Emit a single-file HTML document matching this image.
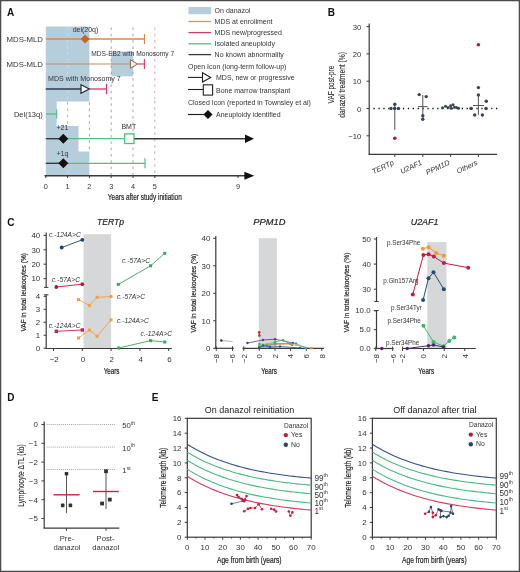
<!DOCTYPE html>
<html><head><meta charset="utf-8"><style>
html,body{margin:0;padding:0;background:#fff;}
body{width:520px;height:572px;overflow:hidden;position:relative;}
.ov{position:absolute;left:0;top:0;filter:none;}
svg{display:block;font-family:"Liberation Sans", sans-serif;filter:blur(0.4px);}
</style></head><body>
<svg width="520" height="572" viewBox="0 0 520 572">
<rect x="0" y="0" width="520" height="572" fill="#fff"/>
<text x="6.90" y="15.80" font-size="10" text-anchor="start" fill="#111" font-weight="bold">A</text>
<polygon points="45.80,26.50 89.40,26.50 89.40,101.50 56.70,101.50 56.70,126.00 78.50,126.00 78.50,151.60 89.40,151.60 89.40,175.50 45.80,175.50" fill="#b6cedc" stroke="none" stroke-width="1"/>
<rect x="111.20" y="51.50" width="21.80" height="24.80" fill="#b6cedc"/>
<line x1="111.20" y1="27.35" x2="111.20" y2="175.00" stroke="#9c9c9c" stroke-width="0.9" stroke-dasharray="2.6,3.73"/>
<line x1="133.00" y1="27.35" x2="133.00" y2="175.00" stroke="#9c9c9c" stroke-width="0.9" stroke-dasharray="2.6,3.73"/>
<line x1="89.40" y1="102.30" x2="89.40" y2="151.00" stroke="#9c9c9c" stroke-width="0.9" stroke-dasharray="2.6,3.73"/>
<line x1="67.60" y1="27.35" x2="67.60" y2="101.50" stroke="#d2dae0" stroke-width="0.9" stroke-dasharray="2.6,3.73"/>
<line x1="67.60" y1="102.00" x2="67.60" y2="126.00" stroke="#a8a8a8" stroke-width="0.9" stroke-dasharray="2.6,3.73"/>
<line x1="67.60" y1="126.50" x2="67.60" y2="175.00" stroke="#c8d2d8" stroke-width="0.9" stroke-dasharray="2.6,3.73"/>
<line x1="154.80" y1="27.35" x2="154.80" y2="100.00" stroke="#e59ab0" stroke-width="0.9" stroke-dasharray="2.6,3.73"/>
<line x1="154.80" y1="100.80" x2="154.80" y2="175.00" stroke="#b0a8ac" stroke-width="0.9" stroke-dasharray="2.6,3.73"/>
<line x1="45.80" y1="39.00" x2="144.50" y2="39.00" stroke="#d08a4e" stroke-width="1.3"/>
<line x1="144.50" y1="34.00" x2="144.50" y2="44.00" stroke="#d08a4e" stroke-width="1.2"/>
<polygon points="85.10,34.50 89.60,39.00 85.10,43.50 80.60,39.00" fill="#c4661f" stroke="none" stroke-width="1"/>
<text x="85.50" y="31.80" font-size="7" text-anchor="middle" fill="#333">del(20q)</text>
<text x="43.00" y="41.70" font-size="7.8" text-anchor="end" fill="#333">MDS-MLD</text>
<line x1="45.80" y1="64.00" x2="131.00" y2="64.00" stroke="#b39070" stroke-width="1.1"/>
<line x1="137.50" y1="64.00" x2="144.40" y2="64.00" stroke="#d23a68" stroke-width="1.1"/>
<line x1="144.40" y1="59.00" x2="144.40" y2="69.00" stroke="#d23a68" stroke-width="1.1"/>
<polygon points="130.40,59.80 137.50,64.00 130.40,68.30" fill="#f6efe8" stroke="#8e6a4a" stroke-width="1.0"/>
<text x="91.20" y="56.00" font-size="7.2" text-anchor="start" fill="#333" textLength="83" lengthAdjust="spacingAndGlyphs" stroke="#333" stroke-width="0">MDS-EB2 with Monosomy 7</text>
<text x="43.00" y="66.70" font-size="7.8" text-anchor="end" fill="#333">MDS-MLD</text>
<line x1="45.80" y1="89.00" x2="81.00" y2="89.00" stroke="#2e3a52" stroke-width="1.4"/>
<line x1="89.30" y1="89.00" x2="106.50" y2="89.00" stroke="#d23a68" stroke-width="1.3"/>
<line x1="106.50" y1="83.70" x2="106.50" y2="94.30" stroke="#d23a68" stroke-width="1.2"/>
<polygon points="81.00,84.70 89.30,89.00 81.00,93.30" fill="#ffffff" stroke="#1f2a3c" stroke-width="1.2"/>
<text x="48.10" y="80.70" font-size="7.4" text-anchor="start" fill="#333" textLength="72.7" lengthAdjust="spacingAndGlyphs" stroke="#333" stroke-width="0">MDS with Monosomy 7</text>
<line x1="45.80" y1="114.00" x2="56.70" y2="114.00" stroke="#4fbf7f" stroke-width="1.3"/>
<line x1="56.70" y1="109.50" x2="56.70" y2="118.50" stroke="#4fbf7f" stroke-width="1.2"/>
<text x="42.70" y="116.60" font-size="7.5" text-anchor="end" fill="#333">Del(13q)</text>
<line x1="45.80" y1="138.70" x2="63.00" y2="138.70" stroke="#3a3a3a" stroke-width="1.4"/>
<line x1="63.00" y1="138.70" x2="124.70" y2="138.70" stroke="#4fbf7f" stroke-width="1.3"/>
<line x1="134.00" y1="138.70" x2="246.00" y2="138.70" stroke="#3a3a3a" stroke-width="1.4"/>
<polygon points="245.00,134.50 254.00,138.70 245.00,142.90" fill="#111" stroke="none" stroke-width="1"/>
<rect x="124.70" y="133.90" width="9.30" height="9.60" fill="#ffffff" stroke="#4fbf7f" stroke-width="1.3"/>
<polygon points="63.30,133.70 68.30,138.70 63.30,143.70 58.30,138.70" fill="#111" stroke="none" stroke-width="1"/>
<text x="62.40" y="129.60" font-size="7" text-anchor="middle" fill="#333">+21</text>
<text x="128.80" y="129.30" font-size="7" text-anchor="middle" fill="#333">BMT</text>
<line x1="45.80" y1="163.30" x2="63.00" y2="163.30" stroke="#3a3a3a" stroke-width="1.4"/>
<line x1="63.00" y1="163.30" x2="145.00" y2="163.30" stroke="#4fbf7f" stroke-width="1.3"/>
<line x1="145.00" y1="158.30" x2="145.00" y2="168.30" stroke="#4fbf7f" stroke-width="1.2"/>
<polygon points="63.30,158.30 68.30,163.30 63.30,168.30 58.30,163.30" fill="#111" stroke="none" stroke-width="1"/>
<text x="62.40" y="156.00" font-size="7" text-anchor="middle" fill="#333">+1q</text>
<line x1="44.50" y1="175.70" x2="246.00" y2="175.70" stroke="#3a3a3a" stroke-width="1.4"/>
<polygon points="244.40,171.80 254.20,175.70 244.40,179.70" fill="#111" stroke="none" stroke-width="1"/>
<line x1="45.80" y1="175.70" x2="45.80" y2="178.00" stroke="#3a3a3a" stroke-width="1"/>
<text x="45.80" y="188.70" font-size="7.3" text-anchor="middle" fill="#333">0</text>
<line x1="67.60" y1="175.70" x2="67.60" y2="178.00" stroke="#3a3a3a" stroke-width="1"/>
<text x="67.60" y="188.70" font-size="7.3" text-anchor="middle" fill="#333">1</text>
<line x1="89.40" y1="175.70" x2="89.40" y2="178.00" stroke="#3a3a3a" stroke-width="1"/>
<text x="89.40" y="188.70" font-size="7.3" text-anchor="middle" fill="#333">2</text>
<line x1="111.20" y1="175.70" x2="111.20" y2="178.00" stroke="#3a3a3a" stroke-width="1"/>
<text x="111.20" y="188.70" font-size="7.3" text-anchor="middle" fill="#333">3</text>
<line x1="133.00" y1="175.70" x2="133.00" y2="178.00" stroke="#3a3a3a" stroke-width="1"/>
<text x="133.00" y="188.70" font-size="7.3" text-anchor="middle" fill="#333">4</text>
<line x1="154.80" y1="175.70" x2="154.80" y2="178.00" stroke="#3a3a3a" stroke-width="1"/>
<text x="154.80" y="188.70" font-size="7.3" text-anchor="middle" fill="#333">5</text>
<line x1="238.00" y1="175.70" x2="238.00" y2="178.00" stroke="#3a3a3a" stroke-width="1"/>
<text x="238.00" y="188.70" font-size="7.3" text-anchor="middle" fill="#333">9</text>
<text x="107.80" y="199.70" font-size="9.3" text-anchor="start" fill="#222" textLength="74" lengthAdjust="spacingAndGlyphs" stroke="#222" stroke-width="0.2">Years after study initiation</text>
<rect x="188.50" y="7.00" width="22.70" height="7.20" fill="#b6cedc"/>
<line x1="188.50" y1="21.50" x2="211.20" y2="21.50" stroke="#c89870" stroke-width="1.3"/>
<line x1="188.50" y1="32.60" x2="211.20" y2="32.60" stroke="#d23a68" stroke-width="1.3"/>
<line x1="188.50" y1="43.80" x2="211.20" y2="43.80" stroke="#4fbf7f" stroke-width="1.3"/>
<line x1="188.50" y1="54.60" x2="211.20" y2="54.60" stroke="#3a3a3a" stroke-width="1.3"/>
<text x="214.60" y="13.20" font-size="7" text-anchor="start" fill="#333">On danazol</text>
<text x="214.60" y="24.10" font-size="7" text-anchor="start" fill="#333">MDS at enrollment</text>
<text x="214.60" y="35.20" font-size="7" text-anchor="start" fill="#333">MDS new/progressed</text>
<text x="214.60" y="46.30" font-size="7" text-anchor="start" fill="#333">Isolated aneuploidy</text>
<text x="214.60" y="57.10" font-size="7" text-anchor="start" fill="#333">No known abnormality</text>
<text x="188.00" y="68.50" font-size="7" text-anchor="start" fill="#333">Open Icon (long-term follow-up)</text>
<line x1="188.00" y1="77.40" x2="202.50" y2="77.40" stroke="#222" stroke-width="1.1"/>
<polygon points="202.50,72.80 210.70,77.40 202.50,82.00" fill="#fff" stroke="#222" stroke-width="1.1"/>
<text x="216.00" y="80.00" font-size="7" text-anchor="start" fill="#333">MDS, new or progressive</text>
<line x1="188.00" y1="89.50" x2="203.00" y2="89.50" stroke="#222" stroke-width="1.1"/>
<rect x="203.30" y="84.80" width="9.30" height="10.30" fill="#fff" stroke="#222" stroke-width="1.1"/>
<text x="216.00" y="92.60" font-size="7" text-anchor="start" fill="#333">Bone marrow transplant</text>
<text x="188.00" y="105.00" font-size="7" text-anchor="start" fill="#333">Closed Icon (reported in Townsley et al)</text>
<line x1="188.00" y1="114.50" x2="204.00" y2="114.50" stroke="#222" stroke-width="1.2"/>
<polygon points="208.00,109.90 212.60,114.50 208.00,119.10 203.40,114.50" fill="#111" stroke="none" stroke-width="1"/>
<text x="216.00" y="117.10" font-size="7" text-anchor="start" fill="#333">Aneuploidy identified</text>
<text x="327.70" y="15.90" font-size="10" text-anchor="start" fill="#111" font-weight="bold">B</text>
<line x1="369.20" y1="23.50" x2="369.20" y2="154.40" stroke="#3a3a3a" stroke-width="1.2"/>
<line x1="368.60" y1="154.40" x2="497.00" y2="154.40" stroke="#3a3a3a" stroke-width="1.2"/>
<line x1="366.50" y1="26.60" x2="369.20" y2="26.60" stroke="#3a3a3a" stroke-width="1"/>
<text x="361.30" y="29.80" font-size="7.7" text-anchor="end" fill="#333">30</text>
<line x1="366.50" y1="53.90" x2="369.20" y2="53.90" stroke="#3a3a3a" stroke-width="1"/>
<text x="361.30" y="57.10" font-size="7.7" text-anchor="end" fill="#333">20</text>
<line x1="366.50" y1="81.20" x2="369.20" y2="81.20" stroke="#3a3a3a" stroke-width="1"/>
<text x="361.30" y="84.40" font-size="7.7" text-anchor="end" fill="#333">10</text>
<line x1="366.50" y1="108.50" x2="369.20" y2="108.50" stroke="#3a3a3a" stroke-width="1"/>
<text x="361.30" y="111.70" font-size="7.7" text-anchor="end" fill="#333">0</text>
<line x1="366.50" y1="135.80" x2="369.20" y2="135.80" stroke="#3a3a3a" stroke-width="1"/>
<text x="361.30" y="139.00" font-size="7.7" text-anchor="end" fill="#333">−10</text>
<text x="334.20" y="84.60" font-size="8.3" text-anchor="middle" fill="#222" textLength="37.7" lengthAdjust="spacingAndGlyphs" stroke="#222" stroke-width="0.08" transform="rotate(-90 334.20 84.60)">VAF post-pre</text>
<text x="345.00" y="84.90" font-size="8.3" text-anchor="middle" fill="#222" textLength="65.7" lengthAdjust="spacingAndGlyphs" stroke="#222" stroke-width="0.08" transform="rotate(-90 345.00 84.90)">danazol treatment (%)</text>
<line x1="373.50" y1="108.50" x2="498.00" y2="108.50" stroke="#111" stroke-width="1.3" stroke-dasharray="1.3,3.6"/>
<line x1="394.80" y1="154.40" x2="394.80" y2="157.00" stroke="#3a3a3a" stroke-width="1"/>
<line x1="422.80" y1="154.40" x2="422.80" y2="157.00" stroke="#3a3a3a" stroke-width="1"/>
<line x1="450.60" y1="154.40" x2="450.60" y2="157.00" stroke="#3a3a3a" stroke-width="1"/>
<line x1="478.40" y1="154.40" x2="478.40" y2="157.00" stroke="#3a3a3a" stroke-width="1"/>
<line x1="394.80" y1="104.20" x2="394.80" y2="130.00" stroke="#555" stroke-width="1"/>
<circle cx="391.00" cy="108.50" r="1.7" fill="#3a4552"/>
<circle cx="394.80" cy="104.20" r="1.7" fill="#3a4552"/>
<circle cx="398.50" cy="108.50" r="1.7" fill="#3a4552"/>
<circle cx="394.80" cy="108.50" r="1.7" fill="#3a4552"/>
<circle cx="394.80" cy="138.20" r="1.8" fill="#b0193d"/>
<line x1="422.80" y1="95.00" x2="422.80" y2="119.50" stroke="#555" stroke-width="1"/>
<line x1="418.00" y1="106.60" x2="427.50" y2="106.60" stroke="#555" stroke-width="1"/>
<circle cx="419.20" cy="94.60" r="1.7" fill="#3a4552"/>
<circle cx="426.20" cy="96.60" r="1.7" fill="#3a4552"/>
<circle cx="422.80" cy="115.80" r="1.7" fill="#3a4552"/>
<circle cx="422.80" cy="119.30" r="1.7" fill="#3a4552"/>
<circle cx="442.50" cy="107.80" r="1.5" fill="#3a4552"/>
<circle cx="445.50" cy="106.30" r="1.5" fill="#3a4552"/>
<circle cx="448.00" cy="107.50" r="1.5" fill="#3a4552"/>
<circle cx="450.50" cy="105.80" r="1.5" fill="#3a4552"/>
<circle cx="453.00" cy="104.80" r="1.5" fill="#3a4552"/>
<circle cx="454.50" cy="107.20" r="1.5" fill="#3a4552"/>
<circle cx="456.50" cy="107.50" r="1.5" fill="#3a4552"/>
<circle cx="458.60" cy="108.30" r="1.5" fill="#3a4552"/>
<circle cx="451.00" cy="108.30" r="1.5" fill="#3a4552"/>
<line x1="478.40" y1="95.00" x2="478.40" y2="115.00" stroke="#555" stroke-width="1"/>
<line x1="473.00" y1="105.50" x2="484.00" y2="105.50" stroke="#555" stroke-width="1"/>
<circle cx="478.40" cy="87.60" r="1.7" fill="#3a4552"/>
<circle cx="478.40" cy="95.00" r="1.7" fill="#3a4552"/>
<circle cx="486.30" cy="101.30" r="1.7" fill="#3a4552"/>
<circle cx="471.00" cy="108.50" r="1.7" fill="#3a4552"/>
<circle cx="486.00" cy="108.50" r="1.7" fill="#3a4552"/>
<circle cx="474.70" cy="115.00" r="1.7" fill="#3a4552"/>
<circle cx="482.40" cy="115.00" r="1.7" fill="#3a4552"/>
<circle cx="478.40" cy="44.80" r="1.8" fill="#b0193d"/>
<text x="394.50" y="164.30" font-size="7.4" text-anchor="end" fill="#333" font-style="italic" transform="rotate(-25 394.50 164.30)">TERTp</text>
<text x="422.50" y="164.30" font-size="7.4" text-anchor="end" fill="#333" font-style="italic" transform="rotate(-25 422.50 164.30)">U2AF1</text>
<text x="450.30" y="164.30" font-size="7.4" text-anchor="end" fill="#333" font-style="italic" transform="rotate(-25 450.30 164.30)">PPM1D</text>
<text x="478.10" y="164.30" font-size="7.4" text-anchor="end" fill="#333" font-style="italic" transform="rotate(-25 478.10 164.30)">Others</text>
<text x="7.20" y="226.00" font-size="10" text-anchor="start" fill="#111" font-weight="bold">C</text>
<rect x="83.50" y="234.20" width="27.60" height="114.00" fill="#d6d7d9"/>
<text x="110.60" y="225.10" font-size="9.6" text-anchor="middle" fill="#222" font-style="italic" textLength="27" lengthAdjust="spacingAndGlyphs" stroke="#222" stroke-width="0.2">TERTp</text>
<line x1="46.20" y1="232.50" x2="46.20" y2="287.40" stroke="#3a3a3a" stroke-width="1.2"/>
<line x1="44.00" y1="287.40" x2="48.40" y2="287.40" stroke="#3a3a3a" stroke-width="1"/>
<line x1="43.60" y1="235.40" x2="46.20" y2="235.40" stroke="#3a3a3a" stroke-width="1"/>
<text x="40.20" y="238.20" font-size="7.9" text-anchor="end" fill="#333">40</text>
<line x1="43.60" y1="249.80" x2="46.20" y2="249.80" stroke="#3a3a3a" stroke-width="1"/>
<text x="40.20" y="252.60" font-size="7.9" text-anchor="end" fill="#333">30</text>
<line x1="43.60" y1="264.20" x2="46.20" y2="264.20" stroke="#3a3a3a" stroke-width="1"/>
<text x="40.20" y="267.00" font-size="7.9" text-anchor="end" fill="#333">20</text>
<line x1="43.60" y1="278.60" x2="46.20" y2="278.60" stroke="#3a3a3a" stroke-width="1"/>
<text x="40.20" y="281.40" font-size="7.9" text-anchor="end" fill="#333">10</text>
<line x1="46.20" y1="294.80" x2="46.20" y2="348.80" stroke="#3a3a3a" stroke-width="1.2"/>
<line x1="44.00" y1="294.80" x2="48.40" y2="294.80" stroke="#3a3a3a" stroke-width="1"/>
<line x1="43.60" y1="296.32" x2="46.20" y2="296.32" stroke="#3a3a3a" stroke-width="1"/>
<text x="40.20" y="299.12" font-size="7.9" text-anchor="end" fill="#333">4</text>
<line x1="43.60" y1="309.29" x2="46.20" y2="309.29" stroke="#3a3a3a" stroke-width="1"/>
<text x="40.20" y="312.09" font-size="7.9" text-anchor="end" fill="#333">3</text>
<line x1="43.60" y1="322.26" x2="46.20" y2="322.26" stroke="#3a3a3a" stroke-width="1"/>
<text x="40.20" y="325.06" font-size="7.9" text-anchor="end" fill="#333">2</text>
<line x1="43.60" y1="335.23" x2="46.20" y2="335.23" stroke="#3a3a3a" stroke-width="1"/>
<text x="40.20" y="338.03" font-size="7.9" text-anchor="end" fill="#333">1</text>
<line x1="43.60" y1="348.20" x2="46.20" y2="348.20" stroke="#3a3a3a" stroke-width="1"/>
<text x="40.20" y="351.00" font-size="7.9" text-anchor="end" fill="#333">0</text>
<line x1="45.60" y1="348.50" x2="171.80" y2="348.50" stroke="#3a3a3a" stroke-width="1.2"/>
<line x1="53.50" y1="348.50" x2="53.50" y2="351.00" stroke="#3a3a3a" stroke-width="1"/>
<text x="54.20" y="361.50" font-size="7.9" text-anchor="middle" fill="#333">−2</text>
<line x1="82.30" y1="348.50" x2="82.30" y2="351.00" stroke="#3a3a3a" stroke-width="1"/>
<text x="83.00" y="361.50" font-size="7.9" text-anchor="middle" fill="#333">0</text>
<line x1="111.10" y1="348.50" x2="111.10" y2="351.00" stroke="#3a3a3a" stroke-width="1"/>
<text x="111.80" y="361.50" font-size="7.9" text-anchor="middle" fill="#333">2</text>
<line x1="139.90" y1="348.50" x2="139.90" y2="351.00" stroke="#3a3a3a" stroke-width="1"/>
<text x="140.60" y="361.50" font-size="7.9" text-anchor="middle" fill="#333">4</text>
<line x1="168.70" y1="348.50" x2="168.70" y2="351.00" stroke="#3a3a3a" stroke-width="1"/>
<text x="169.40" y="361.50" font-size="7.9" text-anchor="middle" fill="#333">6</text>
<text x="111.50" y="373.50" font-size="8.4" text-anchor="middle" fill="#222" textLength="15.7" lengthAdjust="spacingAndGlyphs" stroke="#222" stroke-width="0.2">Years</text>
<text x="25.80" y="292.30" font-size="7.8" text-anchor="middle" fill="#222" textLength="78.5" lengthAdjust="spacingAndGlyphs" stroke="#222" stroke-width="0.2" transform="rotate(-90 25.80 292.30)">VAF in total leukocytes (%)</text>
<polyline points="61.70,247.50 82.30,239.80" stroke="#1d4468" stroke-width="0.9" fill="none"/>
<circle cx="61.70" cy="247.50" r="1.9" fill="#1d4468"/>
<circle cx="82.30" cy="239.80" r="1.9" fill="#1d4468"/>
<polyline points="56.30,287.00 82.30,284.20" stroke="#b5173f" stroke-width="0.9" fill="none"/>
<circle cx="56.30" cy="287.00" r="1.9" fill="#b5173f"/>
<circle cx="82.30" cy="284.20" r="1.9" fill="#b5173f"/>
<polyline points="118.30,284.40 150.60,265.80 164.80,253.30" stroke="#3aa85a" stroke-width="0.9" fill="none"/>
<rect x="116.80" y="282.90" width="3.00" height="3.00" fill="#3aa85a"/>
<rect x="149.10" y="264.30" width="3.00" height="3.00" fill="#3aa85a"/>
<rect x="163.30" y="251.80" width="3.00" height="3.00" fill="#3aa85a"/>
<polyline points="78.50,299.60 89.40,305.40 97.10,297.30 111.00,296.50" stroke="#f0a040" stroke-width="0.9" fill="none"/>
<rect x="77.00" y="298.10" width="3.00" height="3.00" fill="#f0a040"/>
<rect x="87.90" y="303.90" width="3.00" height="3.00" fill="#f0a040"/>
<rect x="95.60" y="295.80" width="3.00" height="3.00" fill="#f0a040"/>
<rect x="109.50" y="295.00" width="3.00" height="3.00" fill="#f0a040"/>
<polyline points="78.50,338.00 89.40,330.00 97.10,336.20 111.00,319.80" stroke="#f0a040" stroke-width="0.9" fill="none"/>
<rect x="77.00" y="336.50" width="3.00" height="3.00" fill="#f0a040"/>
<rect x="87.90" y="328.50" width="3.00" height="3.00" fill="#f0a040"/>
<rect x="95.60" y="334.70" width="3.00" height="3.00" fill="#f0a040"/>
<rect x="109.50" y="318.30" width="3.00" height="3.00" fill="#f0a040"/>
<polyline points="56.30,331.30 82.30,330.00" stroke="#c8204f" stroke-width="0.9" fill="none"/>
<rect x="54.60" y="329.60" width="3.40" height="3.40" fill="#c8204f"/>
<rect x="80.60" y="328.30" width="3.40" height="3.40" fill="#c8204f"/>
<polyline points="118.70,348.00 150.60,340.60 164.80,342.00" stroke="#3aa85a" stroke-width="0.9" fill="none"/>
<rect x="117.20" y="346.50" width="3.00" height="3.00" fill="#3aa85a"/>
<rect x="149.10" y="339.10" width="3.00" height="3.00" fill="#3aa85a"/>
<rect x="163.30" y="340.50" width="3.00" height="3.00" fill="#3aa85a"/>
<text x="49.00" y="236.80" font-size="6.7" text-anchor="start" fill="#333" font-style="italic">c.-124A&gt;C</text>
<text x="52.00" y="282.00" font-size="6.7" text-anchor="start" fill="#333" font-style="italic">c.-57A&gt;C</text>
<text x="122.00" y="262.80" font-size="6.7" text-anchor="start" fill="#333" font-style="italic">c.-57A&gt;C</text>
<text x="117.00" y="298.80" font-size="6.7" text-anchor="start" fill="#333" font-style="italic">c.-57A&gt;C</text>
<text x="117.00" y="322.60" font-size="6.7" text-anchor="start" fill="#333" font-style="italic">c.-124A&gt;C</text>
<text x="48.70" y="328.00" font-size="6.7" text-anchor="start" fill="#333" font-style="italic">c.-124A&gt;C</text>
<text x="140.40" y="336.20" font-size="6.7" text-anchor="start" fill="#333" font-style="italic">c.-124A&gt;C</text>
<rect x="258.80" y="238.20" width="18.10" height="110.10" fill="#d6d7d9"/>
<text x="269.30" y="225.10" font-size="9.6" text-anchor="middle" fill="#222" font-style="italic" textLength="32.2" lengthAdjust="spacingAndGlyphs" stroke="#222" stroke-width="0.2">PPM1D</text>
<line x1="215.80" y1="236.00" x2="215.80" y2="348.80" stroke="#3a3a3a" stroke-width="1.2"/>
<line x1="213.20" y1="238.30" x2="215.80" y2="238.30" stroke="#3a3a3a" stroke-width="1"/>
<text x="210.30" y="241.10" font-size="7.9" text-anchor="end" fill="#333">40</text>
<line x1="213.20" y1="265.80" x2="215.80" y2="265.80" stroke="#3a3a3a" stroke-width="1"/>
<text x="210.30" y="268.60" font-size="7.9" text-anchor="end" fill="#333">30</text>
<line x1="213.20" y1="293.30" x2="215.80" y2="293.30" stroke="#3a3a3a" stroke-width="1"/>
<text x="210.30" y="296.10" font-size="7.9" text-anchor="end" fill="#333">20</text>
<line x1="213.20" y1="320.80" x2="215.80" y2="320.80" stroke="#3a3a3a" stroke-width="1"/>
<text x="210.30" y="323.60" font-size="7.9" text-anchor="end" fill="#333">10</text>
<line x1="213.20" y1="348.30" x2="215.80" y2="348.30" stroke="#3a3a3a" stroke-width="1"/>
<text x="210.30" y="351.10" font-size="7.9" text-anchor="end" fill="#333">0</text>
<line x1="215.20" y1="348.30" x2="233.80" y2="348.30" stroke="#3a3a3a" stroke-width="1.2"/>
<line x1="242.50" y1="348.30" x2="324.00" y2="348.30" stroke="#3a3a3a" stroke-width="1.2"/>
<line x1="216.25" y1="346.30" x2="216.25" y2="350.80" stroke="#3a3a3a" stroke-width="1"/>
<text x="219.05" y="354.00" font-size="7.9" text-anchor="end" fill="#333" transform="rotate(-90 219.05 354.00)">−8</text>
<line x1="232.50" y1="346.30" x2="232.50" y2="350.80" stroke="#3a3a3a" stroke-width="1"/>
<text x="235.30" y="354.00" font-size="7.9" text-anchor="end" fill="#333" transform="rotate(-90 235.30 354.00)">−6</text>
<line x1="243.80" y1="346.30" x2="243.80" y2="350.80" stroke="#3a3a3a" stroke-width="1"/>
<text x="246.60" y="354.00" font-size="7.9" text-anchor="end" fill="#333" transform="rotate(-90 246.60 354.00)">−2</text>
<line x1="259.30" y1="348.30" x2="259.30" y2="350.80" stroke="#3a3a3a" stroke-width="1"/>
<text x="262.10" y="354.00" font-size="7.9" text-anchor="end" fill="#333" transform="rotate(-90 262.10 354.00)">0</text>
<line x1="275.00" y1="348.30" x2="275.00" y2="350.80" stroke="#3a3a3a" stroke-width="1"/>
<text x="277.80" y="354.00" font-size="7.9" text-anchor="end" fill="#333" transform="rotate(-90 277.80 354.00)">2</text>
<line x1="290.50" y1="348.30" x2="290.50" y2="350.80" stroke="#3a3a3a" stroke-width="1"/>
<text x="293.30" y="354.00" font-size="7.9" text-anchor="end" fill="#333" transform="rotate(-90 293.30 354.00)">4</text>
<line x1="306.30" y1="348.30" x2="306.30" y2="350.80" stroke="#3a3a3a" stroke-width="1"/>
<text x="309.10" y="354.00" font-size="7.9" text-anchor="end" fill="#333" transform="rotate(-90 309.10 354.00)">6</text>
<line x1="321.80" y1="348.30" x2="321.80" y2="350.80" stroke="#3a3a3a" stroke-width="1"/>
<text x="324.60" y="354.00" font-size="7.9" text-anchor="end" fill="#333" transform="rotate(-90 324.60 354.00)">8</text>
<text x="269.00" y="373.50" font-size="8.4" text-anchor="middle" fill="#222" textLength="15.7" lengthAdjust="spacingAndGlyphs" stroke="#222" stroke-width="0.2">Years</text>
<text x="196.40" y="293.20" font-size="7.8" text-anchor="middle" fill="#222" textLength="79" lengthAdjust="spacingAndGlyphs" stroke="#222" stroke-width="0.2" transform="rotate(-90 196.40 293.20)">VAF in total leukocytes (%)</text>
<line x1="221.30" y1="340.50" x2="232.50" y2="341.50" stroke="#999" stroke-width="0.8"/>
<circle cx="221.30" cy="340.50" r="1.3" fill="#333"/>
<polyline points="247.40,343.00 263.00,340.00 275.00,339.20 293.00,343.00" stroke="#5a3a8a" stroke-width="0.8" fill="none"/>
<circle cx="247.40" cy="343.00" r="1.2" fill="#5a3a8a"/>
<circle cx="263.00" cy="340.00" r="1.2" fill="#5a3a8a"/>
<circle cx="275.00" cy="339.20" r="1.2" fill="#5a3a8a"/>
<circle cx="293.00" cy="343.00" r="1.2" fill="#5a3a8a"/>
<polyline points="259.30,344.00 267.00,344.50 275.00,342.00 283.00,340.00 292.00,345.00" stroke="#4caf50" stroke-width="0.8" fill="none"/>
<circle cx="259.30" cy="344.00" r="1.2" fill="#4caf50"/>
<circle cx="267.00" cy="344.50" r="1.2" fill="#4caf50"/>
<circle cx="275.00" cy="342.00" r="1.2" fill="#4caf50"/>
<circle cx="283.00" cy="340.00" r="1.2" fill="#4caf50"/>
<circle cx="292.00" cy="345.00" r="1.2" fill="#4caf50"/>
<polyline points="259.30,346.00 267.00,345.00 275.00,344.50 290.00,344.00 311.50,348.30" stroke="#e08a30" stroke-width="0.8" fill="none"/>
<circle cx="259.30" cy="346.00" r="1.2" fill="#e08a30"/>
<circle cx="267.00" cy="345.00" r="1.2" fill="#e08a30"/>
<circle cx="275.00" cy="344.50" r="1.2" fill="#e08a30"/>
<circle cx="290.00" cy="344.00" r="1.2" fill="#e08a30"/>
<circle cx="311.50" cy="348.30" r="1.2" fill="#e08a30"/>
<polyline points="259.30,347.00 267.00,346.00 275.00,343.50 296.00,343.50 306.00,348.30" stroke="#2aa8c8" stroke-width="0.8" fill="none"/>
<circle cx="259.30" cy="347.00" r="1.2" fill="#2aa8c8"/>
<circle cx="267.00" cy="346.00" r="1.2" fill="#2aa8c8"/>
<circle cx="275.00" cy="343.50" r="1.2" fill="#2aa8c8"/>
<circle cx="296.00" cy="343.50" r="1.2" fill="#2aa8c8"/>
<circle cx="306.00" cy="348.30" r="1.2" fill="#2aa8c8"/>
<polyline points="259.30,347.50 263.00,345.50 270.00,347.00 280.00,346.50 300.00,348.00" stroke="#1f5fa0" stroke-width="0.8" fill="none"/>
<circle cx="259.30" cy="347.50" r="1.2" fill="#1f5fa0"/>
<circle cx="263.00" cy="345.50" r="1.2" fill="#1f5fa0"/>
<circle cx="270.00" cy="347.00" r="1.2" fill="#1f5fa0"/>
<circle cx="280.00" cy="346.50" r="1.2" fill="#1f5fa0"/>
<circle cx="300.00" cy="348.00" r="1.2" fill="#1f5fa0"/>
<polyline points="259.20,332.30 259.40,335.60" stroke="#c0303a" stroke-width="1.2" fill="none"/>
<circle cx="259.20" cy="332.30" r="1.3" fill="#c0303a"/>
<circle cx="259.40" cy="335.60" r="1.3" fill="#c0303a"/>
<rect x="427.30" y="242.10" width="19.20" height="106.40" fill="#d6d7d9"/>
<text x="424.60" y="225.10" font-size="9.6" text-anchor="middle" fill="#222" font-style="italic" textLength="27.8" lengthAdjust="spacingAndGlyphs" stroke="#222" stroke-width="0.2">U2AF1</text>
<line x1="376.50" y1="237.00" x2="376.50" y2="301.50" stroke="#3a3a3a" stroke-width="1.2"/>
<line x1="374.30" y1="301.50" x2="378.70" y2="301.50" stroke="#3a3a3a" stroke-width="1"/>
<line x1="373.80" y1="239.00" x2="376.50" y2="239.00" stroke="#3a3a3a" stroke-width="1"/>
<text x="371.00" y="241.80" font-size="7.9" text-anchor="end" fill="#333">50</text>
<line x1="373.80" y1="264.10" x2="376.50" y2="264.10" stroke="#3a3a3a" stroke-width="1"/>
<text x="371.00" y="266.90" font-size="7.9" text-anchor="end" fill="#333">40</text>
<line x1="373.80" y1="289.20" x2="376.50" y2="289.20" stroke="#3a3a3a" stroke-width="1"/>
<text x="371.00" y="292.00" font-size="7.9" text-anchor="end" fill="#333">30</text>
<line x1="376.50" y1="310.30" x2="376.50" y2="349.00" stroke="#3a3a3a" stroke-width="1.2"/>
<line x1="374.30" y1="310.50" x2="378.70" y2="310.50" stroke="#3a3a3a" stroke-width="1"/>
<line x1="373.80" y1="310.80" x2="376.50" y2="310.80" stroke="#3a3a3a" stroke-width="1"/>
<text x="370.60" y="313.30" font-size="7.9" text-anchor="end" fill="#333">10.0</text>
<line x1="373.80" y1="329.65" x2="376.50" y2="329.65" stroke="#3a3a3a" stroke-width="1"/>
<text x="370.60" y="332.15" font-size="7.9" text-anchor="end" fill="#333">5.0</text>
<line x1="373.80" y1="348.50" x2="376.50" y2="348.50" stroke="#3a3a3a" stroke-width="1"/>
<text x="370.60" y="351.00" font-size="7.9" text-anchor="end" fill="#333">0.0</text>
<line x1="376.00" y1="348.50" x2="393.50" y2="348.50" stroke="#3a3a3a" stroke-width="1.2"/>
<line x1="402.60" y1="348.50" x2="475.70" y2="348.50" stroke="#3a3a3a" stroke-width="1.2"/>
<line x1="375.80" y1="346.50" x2="375.80" y2="351.00" stroke="#3a3a3a" stroke-width="1"/>
<text x="378.60" y="354.00" font-size="7.9" text-anchor="end" fill="#333" transform="rotate(-90 378.60 354.00)">−8</text>
<line x1="392.70" y1="346.50" x2="392.70" y2="351.00" stroke="#3a3a3a" stroke-width="1"/>
<text x="395.50" y="354.00" font-size="7.9" text-anchor="end" fill="#333" transform="rotate(-90 395.50 354.00)">−6</text>
<line x1="402.60" y1="346.50" x2="402.60" y2="351.00" stroke="#3a3a3a" stroke-width="1"/>
<text x="405.40" y="354.00" font-size="7.9" text-anchor="end" fill="#333" transform="rotate(-90 405.40 354.00)">−2</text>
<line x1="423.40" y1="348.50" x2="423.40" y2="351.00" stroke="#3a3a3a" stroke-width="1"/>
<text x="426.20" y="354.00" font-size="7.9" text-anchor="end" fill="#333" transform="rotate(-90 426.20 354.00)">0</text>
<line x1="444.20" y1="348.50" x2="444.20" y2="351.00" stroke="#3a3a3a" stroke-width="1"/>
<text x="447.00" y="354.00" font-size="7.9" text-anchor="end" fill="#333" transform="rotate(-90 447.00 354.00)">2</text>
<line x1="464.80" y1="348.50" x2="464.80" y2="351.00" stroke="#3a3a3a" stroke-width="1"/>
<text x="467.60" y="354.00" font-size="7.9" text-anchor="end" fill="#333" transform="rotate(-90 467.60 354.00)">4</text>
<text x="426.20" y="373.50" font-size="8.4" text-anchor="middle" fill="#222" textLength="15.7" lengthAdjust="spacingAndGlyphs" stroke="#222" stroke-width="0.2">Years</text>
<text x="349.00" y="292.50" font-size="7.8" text-anchor="middle" fill="#222" textLength="80" lengthAdjust="spacingAndGlyphs" stroke="#222" stroke-width="0.2" transform="rotate(-90 349.00 292.50)">VAF in total leukocytes (%)</text>
<polyline points="422.80,248.80 428.50,247.20 436.20,253.10 443.80,255.70" stroke="#f09a30" stroke-width="1" fill="none"/>
<circle cx="422.80" cy="248.80" r="2.0" fill="#f09a30"/>
<circle cx="428.50" cy="247.20" r="2.0" fill="#f09a30"/>
<circle cx="436.20" cy="253.10" r="2.0" fill="#f09a30"/>
<circle cx="443.80" cy="255.70" r="2.0" fill="#f09a30"/>
<polyline points="412.80,294.40 423.40,255.10 428.50,254.30 433.80,256.60 443.80,263.10 468.20,267.70" stroke="#c8193f" stroke-width="1" fill="none"/>
<circle cx="412.80" cy="294.40" r="2.0" fill="#c8193f"/>
<circle cx="423.40" cy="255.10" r="2.0" fill="#c8193f"/>
<circle cx="428.50" cy="254.30" r="2.0" fill="#c8193f"/>
<circle cx="433.80" cy="256.60" r="2.0" fill="#c8193f"/>
<circle cx="443.80" cy="263.10" r="2.0" fill="#c8193f"/>
<circle cx="468.20" cy="267.70" r="2.0" fill="#c8193f"/>
<polyline points="423.10,300.00 428.50,278.20 433.50,272.30 443.80,289.20" stroke="#1f4e6e" stroke-width="1" fill="none"/>
<circle cx="423.10" cy="300.00" r="2.0" fill="#1f4e6e"/>
<circle cx="428.50" cy="278.20" r="2.0" fill="#1f4e6e"/>
<circle cx="433.50" cy="272.30" r="2.0" fill="#1f4e6e"/>
<circle cx="443.80" cy="289.20" r="2.0" fill="#1f4e6e"/>
<polyline points="423.40,325.80 433.50,342.00 443.50,346.20 449.20,341.00 454.30,337.40" stroke="#3db86a" stroke-width="1" fill="none"/>
<circle cx="423.40" cy="325.80" r="2.0" fill="#3db86a"/>
<circle cx="433.50" cy="342.00" r="2.0" fill="#3db86a"/>
<circle cx="443.50" cy="346.20" r="2.0" fill="#3db86a"/>
<circle cx="449.20" cy="341.00" r="2.0" fill="#3db86a"/>
<circle cx="454.30" cy="337.40" r="2.0" fill="#3db86a"/>
<circle cx="381.80" cy="348.50" r="1.8" fill="#4a2a6a"/>
<polyline points="407.20,348.50 428.50,345.70 433.50,345.00 443.50,347.00" stroke="#4a2a6a" stroke-width="1" fill="none"/>
<circle cx="407.20" cy="348.50" r="1.8" fill="#4a2a6a"/>
<circle cx="428.50" cy="345.70" r="1.8" fill="#4a2a6a"/>
<circle cx="433.50" cy="345.00" r="1.8" fill="#4a2a6a"/>
<circle cx="443.50" cy="347.00" r="1.8" fill="#4a2a6a"/>
<text x="420.30" y="244.60" font-size="6.3" text-anchor="end" fill="#333">p.Ser34Phe</text>
<text x="383.20" y="283.40" font-size="6.3" text-anchor="start" fill="#333">p.Gln157Arg</text>
<text x="391.00" y="310.40" font-size="6.3" text-anchor="start" fill="#333">p.Ser34Tyr</text>
<text x="387.60" y="323.20" font-size="6.3" text-anchor="start" fill="#333">p.Ser34Phe</text>
<text x="386.00" y="344.60" font-size="6.3" text-anchor="start" fill="#333">p.Ser34Phe</text>
<text x="7.20" y="401.20" font-size="10" text-anchor="start" fill="#111" font-weight="bold">D</text>
<line x1="44.20" y1="421.50" x2="44.20" y2="528.30" stroke="#3a3a3a" stroke-width="1.2"/>
<line x1="43.60" y1="528.20" x2="119.30" y2="528.20" stroke="#3a3a3a" stroke-width="1.2"/>
<line x1="41.50" y1="424.50" x2="44.20" y2="424.50" stroke="#3a3a3a" stroke-width="1"/>
<text x="37.80" y="427.30" font-size="7.9" text-anchor="end" fill="#333">0</text>
<line x1="41.50" y1="443.30" x2="44.20" y2="443.30" stroke="#3a3a3a" stroke-width="1"/>
<text x="37.80" y="446.10" font-size="7.9" text-anchor="end" fill="#333">−1</text>
<line x1="41.50" y1="462.10" x2="44.20" y2="462.10" stroke="#3a3a3a" stroke-width="1"/>
<text x="37.80" y="464.90" font-size="7.9" text-anchor="end" fill="#333">−2</text>
<line x1="41.50" y1="480.90" x2="44.20" y2="480.90" stroke="#3a3a3a" stroke-width="1"/>
<text x="37.80" y="483.70" font-size="7.9" text-anchor="end" fill="#333">−3</text>
<line x1="41.50" y1="499.70" x2="44.20" y2="499.70" stroke="#3a3a3a" stroke-width="1"/>
<text x="37.80" y="502.50" font-size="7.9" text-anchor="end" fill="#333">−4</text>
<line x1="41.50" y1="518.50" x2="44.20" y2="518.50" stroke="#3a3a3a" stroke-width="1"/>
<text x="37.80" y="521.30" font-size="7.9" text-anchor="end" fill="#333">−5</text>
<line x1="46.50" y1="424.50" x2="115.00" y2="424.50" stroke="#a0a0a0" stroke-width="0.9" stroke-dasharray="1.1,0.95"/>
<line x1="46.50" y1="447.10" x2="115.00" y2="447.10" stroke="#a0a0a0" stroke-width="0.9" stroke-dasharray="1.1,0.95"/>
<line x1="46.50" y1="469.50" x2="115.00" y2="469.50" stroke="#a0a0a0" stroke-width="0.9" stroke-dasharray="1.1,0.95"/>
<text x="122.30" y="428.20" font-size="7.7" text-anchor="start" fill="#333">50</text>
<text x="130.90" y="424.60" font-size="5" text-anchor="start" fill="#333">th</text>
<text x="122.30" y="450.80" font-size="7.7" text-anchor="start" fill="#333">10</text>
<text x="130.90" y="447.20" font-size="5" text-anchor="start" fill="#333">th</text>
<text x="122.30" y="473.40" font-size="7.7" text-anchor="start" fill="#333">1</text>
<text x="126.80" y="469.80" font-size="5" text-anchor="start" fill="#333">st</text>
<line x1="66.40" y1="528.20" x2="66.40" y2="530.80" stroke="#3a3a3a" stroke-width="1"/>
<line x1="106.00" y1="528.20" x2="106.00" y2="530.80" stroke="#3a3a3a" stroke-width="1"/>
<text x="67.00" y="540.70" font-size="7.7" text-anchor="middle" fill="#333">Pre-</text>
<text x="67.00" y="550.00" font-size="7.7" text-anchor="middle" fill="#333">danazol</text>
<text x="105.60" y="540.70" font-size="7.7" text-anchor="middle" fill="#333">Post-</text>
<text x="105.80" y="550.00" font-size="7.7" text-anchor="middle" fill="#333">danazol</text>
<text x="23.80" y="475.50" font-size="8.2" text-anchor="middle" fill="#222" textLength="62.5" lengthAdjust="spacingAndGlyphs" stroke="#222" stroke-width="0.08" transform="rotate(-90 23.80 475.50)">Lymphocyte ΔTL (kb)</text>
<line x1="66.50" y1="473.70" x2="66.50" y2="513.20" stroke="#555" stroke-width="1"/>
<line x1="106.00" y1="471.20" x2="106.00" y2="509.00" stroke="#555" stroke-width="1"/>
<rect x="64.70" y="471.90" width="3.60" height="3.60" fill="#333" rx="0.8"/>
<rect x="60.90" y="503.60" width="3.60" height="3.60" fill="#333" rx="0.8"/>
<rect x="68.60" y="503.60" width="3.60" height="3.60" fill="#333" rx="0.8"/>
<rect x="104.10" y="469.30" width="3.80" height="3.80" fill="#333"/>
<rect x="100.20" y="501.60" width="3.80" height="3.80" fill="#333"/>
<rect x="107.90" y="497.70" width="3.80" height="3.80" fill="#333"/>
<line x1="53.50" y1="494.80" x2="79.60" y2="494.80" stroke="#c8204f" stroke-width="1.4"/>
<line x1="93.00" y1="491.50" x2="118.80" y2="491.50" stroke="#c8204f" stroke-width="1.4"/>
<text x="151.80" y="401.20" font-size="10" text-anchor="start" fill="#111" font-weight="bold">E</text>
<rect x="187.30" y="418.32" width="123.90" height="118.88" fill="none" stroke="#3a3a3a" stroke-width="1.2"/>
<line x1="184.70" y1="537.20" x2="187.30" y2="537.20" stroke="#3a3a3a" stroke-width="1"/>
<text x="181.50" y="540.00" font-size="7.9" text-anchor="end" fill="#333">0</text>
<line x1="184.70" y1="522.34" x2="187.30" y2="522.34" stroke="#3a3a3a" stroke-width="1"/>
<text x="181.50" y="525.14" font-size="7.9" text-anchor="end" fill="#333">2</text>
<line x1="184.70" y1="507.48" x2="187.30" y2="507.48" stroke="#3a3a3a" stroke-width="1"/>
<text x="181.50" y="510.28" font-size="7.9" text-anchor="end" fill="#333">4</text>
<line x1="184.70" y1="492.62" x2="187.30" y2="492.62" stroke="#3a3a3a" stroke-width="1"/>
<text x="181.50" y="495.42" font-size="7.9" text-anchor="end" fill="#333">6</text>
<line x1="184.70" y1="477.76" x2="187.30" y2="477.76" stroke="#3a3a3a" stroke-width="1"/>
<text x="181.50" y="480.56" font-size="7.9" text-anchor="end" fill="#333">8</text>
<line x1="184.70" y1="462.90" x2="187.30" y2="462.90" stroke="#3a3a3a" stroke-width="1"/>
<text x="181.50" y="465.70" font-size="7.9" text-anchor="end" fill="#333">10</text>
<line x1="184.70" y1="448.04" x2="187.30" y2="448.04" stroke="#3a3a3a" stroke-width="1"/>
<text x="181.50" y="450.84" font-size="7.9" text-anchor="end" fill="#333">12</text>
<line x1="184.70" y1="433.18" x2="187.30" y2="433.18" stroke="#3a3a3a" stroke-width="1"/>
<text x="181.50" y="435.98" font-size="7.9" text-anchor="end" fill="#333">14</text>
<line x1="184.70" y1="418.32" x2="187.30" y2="418.32" stroke="#3a3a3a" stroke-width="1"/>
<text x="181.50" y="421.12" font-size="7.9" text-anchor="end" fill="#333">16</text>
<line x1="187.30" y1="537.20" x2="187.30" y2="539.70" stroke="#3a3a3a" stroke-width="1"/>
<text x="187.30" y="550.30" font-size="7.9" text-anchor="middle" fill="#333">0</text>
<line x1="205.00" y1="537.20" x2="205.00" y2="539.70" stroke="#3a3a3a" stroke-width="1"/>
<text x="205.00" y="550.30" font-size="7.9" text-anchor="middle" fill="#333">10</text>
<line x1="222.70" y1="537.20" x2="222.70" y2="539.70" stroke="#3a3a3a" stroke-width="1"/>
<text x="222.70" y="550.30" font-size="7.9" text-anchor="middle" fill="#333">20</text>
<line x1="240.40" y1="537.20" x2="240.40" y2="539.70" stroke="#3a3a3a" stroke-width="1"/>
<text x="240.40" y="550.30" font-size="7.9" text-anchor="middle" fill="#333">30</text>
<line x1="258.10" y1="537.20" x2="258.10" y2="539.70" stroke="#3a3a3a" stroke-width="1"/>
<text x="258.10" y="550.30" font-size="7.9" text-anchor="middle" fill="#333">40</text>
<line x1="275.80" y1="537.20" x2="275.80" y2="539.70" stroke="#3a3a3a" stroke-width="1"/>
<text x="275.80" y="550.30" font-size="7.9" text-anchor="middle" fill="#333">50</text>
<line x1="293.50" y1="537.20" x2="293.50" y2="539.70" stroke="#3a3a3a" stroke-width="1"/>
<text x="293.50" y="550.30" font-size="7.9" text-anchor="middle" fill="#333">60</text>
<line x1="311.20" y1="537.20" x2="311.20" y2="539.70" stroke="#3a3a3a" stroke-width="1"/>
<text x="311.20" y="550.30" font-size="7.9" text-anchor="middle" fill="#333">70</text>
<line x1="196.15" y1="537.20" x2="196.15" y2="538.70" stroke="#3a3a3a" stroke-width="0.8"/>
<line x1="213.85" y1="537.20" x2="213.85" y2="538.70" stroke="#3a3a3a" stroke-width="0.8"/>
<line x1="231.55" y1="537.20" x2="231.55" y2="538.70" stroke="#3a3a3a" stroke-width="0.8"/>
<line x1="249.25" y1="537.20" x2="249.25" y2="538.70" stroke="#3a3a3a" stroke-width="0.8"/>
<line x1="266.95" y1="537.20" x2="266.95" y2="538.70" stroke="#3a3a3a" stroke-width="0.8"/>
<line x1="284.65" y1="537.20" x2="284.65" y2="538.70" stroke="#3a3a3a" stroke-width="0.8"/>
<line x1="302.35" y1="537.20" x2="302.35" y2="538.70" stroke="#3a3a3a" stroke-width="0.8"/>
<text x="204.80" y="413.30" font-size="9.0" text-anchor="start" fill="#222">On danazol reinitiation</text>
<polyline points="187.30,444.33 190.84,446.50 194.38,448.55 197.92,450.48 201.46,452.31 205.00,454.04 208.54,455.67 212.08,457.21 215.62,458.67 219.16,460.05 222.70,461.34 226.24,462.57 229.78,463.73 233.32,464.82 236.86,465.86 240.40,466.83 243.94,467.75 247.48,468.62 251.02,469.44 254.56,470.22 258.10,470.95 261.64,471.65 265.18,472.30 268.72,472.92 272.26,473.50 275.80,474.05 279.34,474.57 282.88,475.06 286.42,475.53 289.96,475.97 293.50,476.38 297.04,476.77 300.58,477.14 304.12,477.49 307.66,477.82 311.20,478.13" stroke="#34528a" stroke-width="1.1" fill="none"/>
<polyline points="187.30,452.13 190.84,454.25 194.38,456.26 197.92,458.15 201.46,459.94 205.00,461.63 208.54,463.23 212.08,464.73 215.62,466.16 219.16,467.50 222.70,468.77 226.24,469.97 229.78,471.10 233.32,472.17 236.86,473.18 240.40,474.14 243.94,475.04 247.48,475.89 251.02,476.69 254.56,477.45 258.10,478.17 261.64,478.85 265.18,479.49 268.72,480.09 272.26,480.66 275.80,481.20 279.34,481.71 282.88,482.19 286.42,482.64 289.96,483.07 293.50,483.48 297.04,483.86 300.58,484.22 304.12,484.56 307.66,484.89 311.20,485.19" stroke="#4cb87f" stroke-width="1.1" fill="none"/>
<polyline points="187.30,460.30 190.84,462.45 194.38,464.48 197.92,466.39 201.46,468.20 205.00,469.91 208.54,471.52 212.08,473.05 215.62,474.49 219.16,475.85 222.70,477.13 226.24,478.34 229.78,479.49 233.32,480.57 236.86,481.59 240.40,482.56 243.94,483.47 247.48,484.33 251.02,485.14 254.56,485.91 258.10,486.64 261.64,487.32 265.18,487.97 268.72,488.58 272.26,489.16 275.80,489.70 279.34,490.22 282.88,490.70 286.42,491.16 289.96,491.59 293.50,492.00 297.04,492.39 300.58,492.76 304.12,493.10 307.66,493.43 311.20,493.73" stroke="#4cb87f" stroke-width="1.1" fill="none"/>
<polyline points="187.30,469.22 190.84,471.39 194.38,473.44 197.92,475.37 201.46,477.20 205.00,478.93 208.54,480.56 212.08,482.11 215.62,483.56 219.16,484.94 222.70,486.23 226.24,487.46 229.78,488.62 233.32,489.71 236.86,490.75 240.40,491.72 243.94,492.64 247.48,493.51 251.02,494.34 254.56,495.11 258.10,495.84 261.64,496.54 265.18,497.19 268.72,497.81 272.26,498.39 275.80,498.94 279.34,499.46 282.88,499.96 286.42,500.42 289.96,500.86 293.50,501.27 297.04,501.66 300.58,502.03 304.12,502.38 307.66,502.71 311.20,503.02" stroke="#4cb87f" stroke-width="1.1" fill="none"/>
<polyline points="187.30,476.27 190.84,478.45 194.38,480.50 197.92,482.43 201.46,484.26 205.00,485.99 208.54,487.62 212.08,489.16 215.62,490.62 219.16,491.99 222.70,493.29 226.24,494.52 229.78,495.68 233.32,496.77 236.86,497.80 240.40,498.78 243.94,499.70 247.48,500.57 251.02,501.39 254.56,502.17 258.10,502.90 261.64,503.60 265.18,504.25 268.72,504.87 272.26,505.45 275.80,506.00 279.34,506.52 282.88,507.01 286.42,507.48 289.96,507.92 293.50,508.33 297.04,508.72 300.58,509.09 304.12,509.44 307.66,509.77 311.20,510.08" stroke="#d23c62" stroke-width="1.1" fill="none"/>
<text x="314.40" y="480.90" font-size="8.2" text-anchor="start" fill="#333">99</text>
<text x="323.60" y="477.20" font-size="5" text-anchor="start" fill="#333">th</text>
<text x="314.40" y="489.50" font-size="8.2" text-anchor="start" fill="#333">90</text>
<text x="323.60" y="485.80" font-size="5" text-anchor="start" fill="#333">th</text>
<text x="314.40" y="497.90" font-size="8.2" text-anchor="start" fill="#333">50</text>
<text x="323.60" y="494.20" font-size="5" text-anchor="start" fill="#333">th</text>
<text x="314.40" y="506.10" font-size="8.2" text-anchor="start" fill="#333">10</text>
<text x="323.60" y="502.40" font-size="5" text-anchor="start" fill="#333">th</text>
<text x="314.40" y="514.00" font-size="8.2" text-anchor="start" fill="#333">1</text>
<text x="319.00" y="510.30" font-size="5" text-anchor="start" fill="#333">st</text>
<text x="284.00" y="427.70" font-size="6.6" text-anchor="start" fill="#333">Danazol</text>
<circle cx="285.80" cy="435.10" r="2.2" fill="#b81d3a"/>
<text x="291.10" y="437.10" font-size="6.9" text-anchor="start" fill="#333">Yes</text>
<circle cx="285.80" cy="444.80" r="2.2" fill="#27475e"/>
<text x="291.10" y="446.60" font-size="6.9" text-anchor="start" fill="#333">No</text>
<polyline points="237.00,495.00 241.60,498.80 244.20,501.20 246.50,496.00" stroke="#c8193f" stroke-width="0.7" fill="none"/>
<polyline points="244.20,511.20 248.00,508.80 250.40,508.00 255.00,508.00 258.50,504.20 262.00,509.30" stroke="#c8193f" stroke-width="0.7" fill="none"/>
<polyline points="271.20,508.80 276.00,511.50" stroke="#c8193f" stroke-width="0.7" fill="none"/>
<polyline points="288.80,511.50 290.40,515.80 292.40,512.40" stroke="#c8193f" stroke-width="0.7" fill="none"/>
<polyline points="231.50,503.80 245.80,500.40" stroke="#27475e" stroke-width="0.7" fill="none"/>
<circle cx="237.00" cy="495.00" r="1.3" fill="#c8193f"/>
<circle cx="238.50" cy="497.00" r="1.3" fill="#c8193f"/>
<circle cx="241.60" cy="498.80" r="1.3" fill="#c8193f"/>
<circle cx="242.70" cy="500.40" r="1.3" fill="#c8193f"/>
<circle cx="244.20" cy="501.20" r="1.3" fill="#c8193f"/>
<circle cx="246.50" cy="496.00" r="1.3" fill="#c8193f"/>
<circle cx="245.00" cy="499.60" r="1.3" fill="#c8193f"/>
<circle cx="244.20" cy="511.20" r="1.3" fill="#c8193f"/>
<circle cx="248.00" cy="508.80" r="1.3" fill="#c8193f"/>
<circle cx="250.40" cy="508.00" r="1.3" fill="#c8193f"/>
<circle cx="255.00" cy="508.00" r="1.3" fill="#c8193f"/>
<circle cx="258.50" cy="504.20" r="1.3" fill="#c8193f"/>
<circle cx="262.00" cy="509.30" r="1.3" fill="#c8193f"/>
<circle cx="271.20" cy="508.80" r="1.3" fill="#c8193f"/>
<circle cx="274.20" cy="509.60" r="1.3" fill="#c8193f"/>
<circle cx="276.00" cy="511.50" r="1.3" fill="#c8193f"/>
<circle cx="288.80" cy="511.50" r="1.3" fill="#c8193f"/>
<circle cx="290.40" cy="515.80" r="1.3" fill="#c8193f"/>
<circle cx="292.40" cy="512.40" r="1.3" fill="#c8193f"/>
<circle cx="231.50" cy="503.80" r="1.3" fill="#27475e"/>
<text x="165.80" y="477.70" font-size="8.4" text-anchor="middle" fill="#222" textLength="60" lengthAdjust="spacingAndGlyphs" stroke="#222" stroke-width="0.2" transform="rotate(-90 165.80 477.70)">Telomere length (kb)</text>
<text x="249.25" y="563.00" font-size="9.2" text-anchor="middle" fill="#222" textLength="64.6" lengthAdjust="spacingAndGlyphs" stroke="#222" stroke-width="0.2">Age from birth (years)</text>
<rect x="372.40" y="418.32" width="123.90" height="118.88" fill="none" stroke="#3a3a3a" stroke-width="1.2"/>
<line x1="369.80" y1="537.20" x2="372.40" y2="537.20" stroke="#3a3a3a" stroke-width="1"/>
<text x="366.60" y="540.00" font-size="7.9" text-anchor="end" fill="#333">0</text>
<line x1="369.80" y1="522.34" x2="372.40" y2="522.34" stroke="#3a3a3a" stroke-width="1"/>
<text x="366.60" y="525.14" font-size="7.9" text-anchor="end" fill="#333">2</text>
<line x1="369.80" y1="507.48" x2="372.40" y2="507.48" stroke="#3a3a3a" stroke-width="1"/>
<text x="366.60" y="510.28" font-size="7.9" text-anchor="end" fill="#333">4</text>
<line x1="369.80" y1="492.62" x2="372.40" y2="492.62" stroke="#3a3a3a" stroke-width="1"/>
<text x="366.60" y="495.42" font-size="7.9" text-anchor="end" fill="#333">6</text>
<line x1="369.80" y1="477.76" x2="372.40" y2="477.76" stroke="#3a3a3a" stroke-width="1"/>
<text x="366.60" y="480.56" font-size="7.9" text-anchor="end" fill="#333">8</text>
<line x1="369.80" y1="462.90" x2="372.40" y2="462.90" stroke="#3a3a3a" stroke-width="1"/>
<text x="366.60" y="465.70" font-size="7.9" text-anchor="end" fill="#333">10</text>
<line x1="369.80" y1="448.04" x2="372.40" y2="448.04" stroke="#3a3a3a" stroke-width="1"/>
<text x="366.60" y="450.84" font-size="7.9" text-anchor="end" fill="#333">12</text>
<line x1="369.80" y1="433.18" x2="372.40" y2="433.18" stroke="#3a3a3a" stroke-width="1"/>
<text x="366.60" y="435.98" font-size="7.9" text-anchor="end" fill="#333">14</text>
<line x1="369.80" y1="418.32" x2="372.40" y2="418.32" stroke="#3a3a3a" stroke-width="1"/>
<text x="366.60" y="421.12" font-size="7.9" text-anchor="end" fill="#333">16</text>
<line x1="372.40" y1="537.20" x2="372.40" y2="539.70" stroke="#3a3a3a" stroke-width="1"/>
<text x="372.40" y="550.30" font-size="7.9" text-anchor="middle" fill="#333">0</text>
<line x1="390.10" y1="537.20" x2="390.10" y2="539.70" stroke="#3a3a3a" stroke-width="1"/>
<text x="390.10" y="550.30" font-size="7.9" text-anchor="middle" fill="#333">10</text>
<line x1="407.80" y1="537.20" x2="407.80" y2="539.70" stroke="#3a3a3a" stroke-width="1"/>
<text x="407.80" y="550.30" font-size="7.9" text-anchor="middle" fill="#333">20</text>
<line x1="425.50" y1="537.20" x2="425.50" y2="539.70" stroke="#3a3a3a" stroke-width="1"/>
<text x="425.50" y="550.30" font-size="7.9" text-anchor="middle" fill="#333">30</text>
<line x1="443.20" y1="537.20" x2="443.20" y2="539.70" stroke="#3a3a3a" stroke-width="1"/>
<text x="443.20" y="550.30" font-size="7.9" text-anchor="middle" fill="#333">40</text>
<line x1="460.90" y1="537.20" x2="460.90" y2="539.70" stroke="#3a3a3a" stroke-width="1"/>
<text x="460.90" y="550.30" font-size="7.9" text-anchor="middle" fill="#333">50</text>
<line x1="478.60" y1="537.20" x2="478.60" y2="539.70" stroke="#3a3a3a" stroke-width="1"/>
<text x="478.60" y="550.30" font-size="7.9" text-anchor="middle" fill="#333">60</text>
<line x1="496.30" y1="537.20" x2="496.30" y2="539.70" stroke="#3a3a3a" stroke-width="1"/>
<text x="496.30" y="550.30" font-size="7.9" text-anchor="middle" fill="#333">70</text>
<line x1="381.25" y1="537.20" x2="381.25" y2="538.70" stroke="#3a3a3a" stroke-width="0.8"/>
<line x1="398.95" y1="537.20" x2="398.95" y2="538.70" stroke="#3a3a3a" stroke-width="0.8"/>
<line x1="416.65" y1="537.20" x2="416.65" y2="538.70" stroke="#3a3a3a" stroke-width="0.8"/>
<line x1="434.35" y1="537.20" x2="434.35" y2="538.70" stroke="#3a3a3a" stroke-width="0.8"/>
<line x1="452.05" y1="537.20" x2="452.05" y2="538.70" stroke="#3a3a3a" stroke-width="0.8"/>
<line x1="469.75" y1="537.20" x2="469.75" y2="538.70" stroke="#3a3a3a" stroke-width="0.8"/>
<line x1="487.45" y1="537.20" x2="487.45" y2="538.70" stroke="#3a3a3a" stroke-width="0.8"/>
<text x="393.20" y="413.30" font-size="9.0" text-anchor="start" fill="#222">Off danazol after trial</text>
<polyline points="372.40,444.33 375.94,446.50 379.48,448.55 383.02,450.48 386.56,452.31 390.10,454.04 393.64,455.67 397.18,457.21 400.72,458.67 404.26,460.05 407.80,461.34 411.34,462.57 414.88,463.73 418.42,464.82 421.96,465.86 425.50,466.83 429.04,467.75 432.58,468.62 436.12,469.44 439.66,470.22 443.20,470.95 446.74,471.65 450.28,472.30 453.82,472.92 457.36,473.50 460.90,474.05 464.44,474.57 467.98,475.06 471.52,475.53 475.06,475.97 478.60,476.38 482.14,476.77 485.68,477.14 489.22,477.49 492.76,477.82 496.30,478.13" stroke="#34528a" stroke-width="1.1" fill="none"/>
<polyline points="372.40,452.13 375.94,454.25 379.48,456.26 383.02,458.15 386.56,459.94 390.10,461.63 393.64,463.23 397.18,464.73 400.72,466.16 404.26,467.50 407.80,468.77 411.34,469.97 414.88,471.10 418.42,472.17 421.96,473.18 425.50,474.14 429.04,475.04 432.58,475.89 436.12,476.69 439.66,477.45 443.20,478.17 446.74,478.85 450.28,479.49 453.82,480.09 457.36,480.66 460.90,481.20 464.44,481.71 467.98,482.19 471.52,482.64 475.06,483.07 478.60,483.48 482.14,483.86 485.68,484.22 489.22,484.56 492.76,484.89 496.30,485.19" stroke="#4cb87f" stroke-width="1.1" fill="none"/>
<polyline points="372.40,460.30 375.94,462.45 379.48,464.48 383.02,466.39 386.56,468.20 390.10,469.91 393.64,471.52 397.18,473.05 400.72,474.49 404.26,475.85 407.80,477.13 411.34,478.34 414.88,479.49 418.42,480.57 421.96,481.59 425.50,482.56 429.04,483.47 432.58,484.33 436.12,485.14 439.66,485.91 443.20,486.64 446.74,487.32 450.28,487.97 453.82,488.58 457.36,489.16 460.90,489.70 464.44,490.22 467.98,490.70 471.52,491.16 475.06,491.59 478.60,492.00 482.14,492.39 485.68,492.76 489.22,493.10 492.76,493.43 496.30,493.73" stroke="#4cb87f" stroke-width="1.1" fill="none"/>
<polyline points="372.40,469.22 375.94,471.39 379.48,473.44 383.02,475.37 386.56,477.20 390.10,478.93 393.64,480.56 397.18,482.11 400.72,483.56 404.26,484.94 407.80,486.23 411.34,487.46 414.88,488.62 418.42,489.71 421.96,490.75 425.50,491.72 429.04,492.64 432.58,493.51 436.12,494.34 439.66,495.11 443.20,495.84 446.74,496.54 450.28,497.19 453.82,497.81 457.36,498.39 460.90,498.94 464.44,499.46 467.98,499.96 471.52,500.42 475.06,500.86 478.60,501.27 482.14,501.66 485.68,502.03 489.22,502.38 492.76,502.71 496.30,503.02" stroke="#4cb87f" stroke-width="1.1" fill="none"/>
<polyline points="372.40,476.27 375.94,478.45 379.48,480.50 383.02,482.43 386.56,484.26 390.10,485.99 393.64,487.62 397.18,489.16 400.72,490.62 404.26,491.99 407.80,493.29 411.34,494.52 414.88,495.68 418.42,496.77 421.96,497.80 425.50,498.78 429.04,499.70 432.58,500.57 436.12,501.39 439.66,502.17 443.20,502.90 446.74,503.60 450.28,504.25 453.82,504.87 457.36,505.45 460.90,506.00 464.44,506.52 467.98,507.01 471.52,507.48 475.06,507.92 478.60,508.33 482.14,508.72 485.68,509.09 489.22,509.44 492.76,509.77 496.30,510.08" stroke="#d23c62" stroke-width="1.1" fill="none"/>
<text x="499.50" y="479.10" font-size="8.2" text-anchor="start" fill="#333">99</text>
<text x="508.70" y="475.40" font-size="5" text-anchor="start" fill="#333">th</text>
<text x="499.50" y="487.80" font-size="8.2" text-anchor="start" fill="#333">90</text>
<text x="508.70" y="484.10" font-size="5" text-anchor="start" fill="#333">th</text>
<text x="499.50" y="496.30" font-size="8.2" text-anchor="start" fill="#333">50</text>
<text x="508.70" y="492.60" font-size="5" text-anchor="start" fill="#333">th</text>
<text x="499.50" y="504.90" font-size="8.2" text-anchor="start" fill="#333">10</text>
<text x="508.70" y="501.20" font-size="5" text-anchor="start" fill="#333">th</text>
<text x="499.50" y="514.10" font-size="8.2" text-anchor="start" fill="#333">1</text>
<text x="504.10" y="510.40" font-size="5" text-anchor="start" fill="#333">st</text>
<text x="469.00" y="427.20" font-size="6.6" text-anchor="start" fill="#333">Danazol</text>
<circle cx="470.80" cy="434.60" r="2.2" fill="#b81d3a"/>
<text x="476.10" y="436.60" font-size="6.9" text-anchor="start" fill="#333">Yes</text>
<circle cx="470.80" cy="444.30" r="2.2" fill="#27475e"/>
<text x="476.10" y="446.10" font-size="6.9" text-anchor="start" fill="#333">No</text>
<polyline points="425.10,513.75 428.90,511.80" stroke="#c8193f" stroke-width="0.7" fill="none"/>
<polyline points="432.80,512.80 432.80,517.10 435.70,515.20 438.60,509.40" stroke="#c8193f" stroke-width="0.7" fill="none"/>
<polyline points="428.90,511.80 430.90,507.00 432.80,512.80" stroke="#27475e" stroke-width="0.7" fill="none"/>
<polyline points="438.60,509.40 440.50,510.40 440.50,517.10 443.40,516.20 446.70,517.10 448.70,515.70 450.60,512.80 451.10,506.10 453.00,513.75" stroke="#27475e" stroke-width="0.7" fill="none"/>
<polyline points="441.40,510.90 451.10,512.00" stroke="#27475e" stroke-width="0.7" fill="none"/>
<circle cx="425.10" cy="513.75" r="1.3" fill="#c8193f"/>
<circle cx="432.80" cy="512.80" r="1.3" fill="#c8193f"/>
<circle cx="432.80" cy="517.10" r="1.3" fill="#c8193f"/>
<circle cx="435.70" cy="515.20" r="1.3" fill="#c8193f"/>
<circle cx="428.90" cy="511.80" r="1.3" fill="#27475e"/>
<circle cx="430.90" cy="507.00" r="1.3" fill="#27475e"/>
<circle cx="438.60" cy="509.40" r="1.3" fill="#27475e"/>
<circle cx="440.50" cy="510.40" r="1.3" fill="#27475e"/>
<circle cx="441.40" cy="510.90" r="1.3" fill="#27475e"/>
<circle cx="440.50" cy="517.10" r="1.3" fill="#27475e"/>
<circle cx="443.40" cy="516.20" r="1.3" fill="#27475e"/>
<circle cx="446.70" cy="517.10" r="1.3" fill="#27475e"/>
<circle cx="448.70" cy="515.70" r="1.3" fill="#27475e"/>
<circle cx="451.10" cy="506.10" r="1.3" fill="#27475e"/>
<circle cx="450.60" cy="512.80" r="1.3" fill="#27475e"/>
<circle cx="453.00" cy="513.75" r="1.3" fill="#27475e"/>
<text x="350.90" y="477.70" font-size="8.4" text-anchor="middle" fill="#222" textLength="60" lengthAdjust="spacingAndGlyphs" stroke="#222" stroke-width="0.2" transform="rotate(-90 350.90 477.70)">Telomere length (kb)</text>
<text x="434.35" y="563.00" font-size="9.2" text-anchor="middle" fill="#222" textLength="64.6" lengthAdjust="spacingAndGlyphs" stroke="#222" stroke-width="0.2">Age from birth (years)</text>
</svg>
<svg class="ov" width="520" height="572" viewBox="0 0 520 572"><rect x="0.6" y="0.6" width="518.8" height="570.8" fill="none" stroke="#4a4a4a" stroke-width="1.3"/></svg>
</body></html>
